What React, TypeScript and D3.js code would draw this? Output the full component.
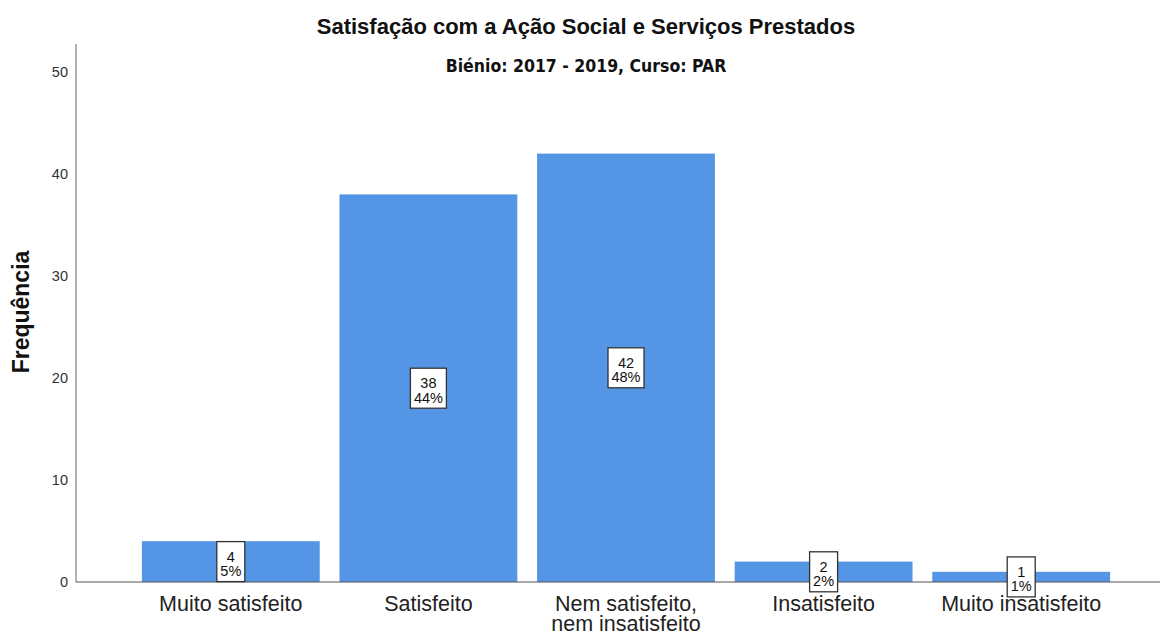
import React, { useEffect, useRef } from 'react';
import * as d3 from 'd3';

const categories = ['Muito satisfeito', 'Satisfeito', 'Nem satisfeito,\nnem insatisfeito', 'Insatisfeito', 'Muito insatisfeito'];
const counts = [4, 38, 42, 2, 1];
const percents = ['5%', '44%', '48%', '2%', '1%'];
const yTicks = [0, 10, 20, 30, 40, 50];

const W = 1162;
const H = 636;

export default function App() {
  const svgRef = useRef<SVGSVGElement>(null);

  useEffect(() => {
    if (!svgRef.current) return;
    const svg = d3.select(svgRef.current);
    svg.selectAll('*').remove();

    const font = "'Liberation Sans', Arial, sans-serif";
    const narrow = "'Liberation Sans Narrow', 'DejaVu Sans Condensed', 'Liberation Sans', sans-serif";

    const x = d3.scaleBand<number>()
      .domain(d3.range(categories.length))
      .range([132, 1120])
      .paddingInner(0.1)
      .paddingOuter(0.05);

    const y = d3.scaleLinear().domain([0, 50]).range([582, 72]);

    // Axis lines
    svg.append('line')
      .attr('x1', 76).attr('x2', 76)
      .attr('y1', 44).attr('y2', y(0))
      .attr('stroke', '#999').attr('stroke-width', 1.5);

    // Bars
    svg.selectAll('rect.bar')
      .data(counts)
      .enter()
      .append('rect')
      .attr('class', 'bar')
      .attr('x', (_, i) => x(i) || 0)
      .attr('y', d => y(d))
      .attr('width', x.bandwidth())
      .attr('height', d => y(0) - y(d))
      .attr('fill', '#5595e5');

    svg.append('line')
      .attr('x1', 76).attr('x2', 1160)
      .attr('y1', y(0)).attr('y2', y(0))
      .attr('stroke', '#555').attr('stroke-width', 1.2);

    // Y ticks
    svg.selectAll('text.ytick')
      .data(yTicks)
      .enter()
      .append('text')
      .attr('class', 'ytick')
      .attr('x', 68)
      .attr('y', d => y(d) + 5)
      .attr('text-anchor', 'end')
      .style('font-family', font)
      .style('font-size', '14.5px')
      .style('fill', '#333')
      .text(d => d);

    // X labels
    categories.forEach((c, i) => {
      const cx = (x(i) || 0) + x.bandwidth() / 2;
      const t = svg.append('text')
        .attr('x', cx)
        .attr('y', 611)
        .attr('text-anchor', 'middle')
        .style('font-family', font)
        .style('font-size', '21.5px')
        .style('fill', '#222');
      c.split('\n').forEach((line, j) => {
        t.append('tspan').attr('x', cx).attr('dy', j === 0 ? 0 : 20).text(line);
      });
    });

    // Data labels
    counts.forEach((d, i) => {
      const cx = (x(i) || 0) + x.bandwidth() / 2;
      const cy = (y(d) + y(0)) / 2;
      const bw = percents[i].length > 2 ? 36 : 28;
      const bh = 40;
      svg.append('rect')
        .attr('x', cx - bw / 2)
        .attr('y', cy - bh / 2)
        .attr('width', bw)
        .attr('height', bh)
        .attr('fill', '#fff')
        .attr('stroke', '#333')
        .attr('stroke-width', 1.3);
      const t = svg.append('text')
        .attr('x', cx)
        .attr('y', cy)
        .attr('text-anchor', 'middle')
        .style('font-family', font)
        .style('font-size', '14.5px')
        .style('fill', '#111');
      t.append('tspan').attr('x', cx).attr('dy', 0).text(d);
      t.append('tspan').attr('x', cx).attr('dy', 14.5).text(percents[i]);
    });

    // Titles
    svg.append('text')
      .attr('x', 586)
      .attr('y', 34)
      .attr('text-anchor', 'middle')
      .style('font-family', font)
      .style('font-size', '22px')
      .style('font-weight', 'bold')
      .style('fill', '#111')
      .text('Satisfação com a Ação Social e Serviços Prestados');

    svg.append('text')
      .attr('x', 586)
      .attr('y', 72)
      .attr('text-anchor', 'middle')
      .style('font-family', narrow)
      .style('font-size', '17.5px')
      .style('font-weight', 'bold')
      .style('fill', '#111')
      .text('Biénio: 2017 - 2019, Curso: PAR');

    svg.append('text')
      .attr('transform', 'rotate(-90)')
      .attr('x', -312)
      .attr('y', 29)
      .attr('text-anchor', 'middle')
      .style('font-family', font)
      .style('font-size', '23px')
      .style('font-weight', 'bold')
      .style('fill', '#111')
      .text('Frequência');
  }, []);

  return (
    <div style={{ position: 'absolute', left: 0, top: 0 }}>
      <svg ref={svgRef} width={W} height={H} style={{ display: 'block', background: '#fff' }} />
    </div>
  );
}
